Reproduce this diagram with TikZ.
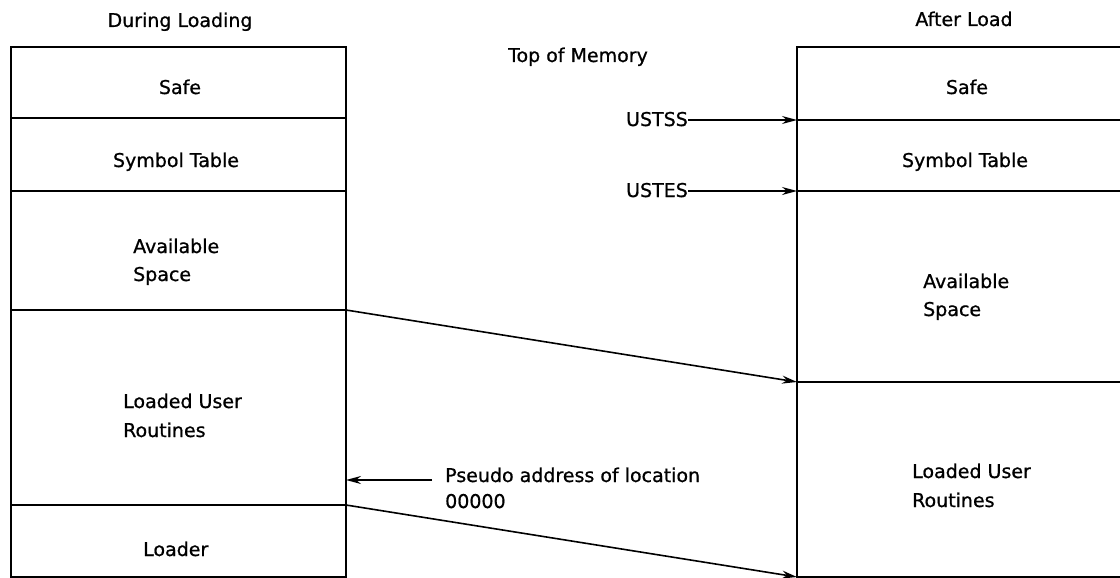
\documentclass[tikz,border=0pt]{standalone}
\usepackage{fontspec}
\setmainfont{DejaVu Sans}
\newfontfamily\labelfont{DejaVu Sans}[FakeBold=0.8]
\usetikzlibrary{arrows.meta}
\begin{document}
\begin{tikzpicture}[x=1pt,y=-1pt,
  lbl/.style={font=\labelfont\fontsize{19}{22}\selectfont, inner sep=0pt, anchor=base},
  lblw/.style={lbl, anchor=base west},
  lble/.style={lbl, anchor=base east},
  frame/.style={line width=1.9pt},
  div/.style={line width=1.4pt},
  ptr/.style={line width=1.6pt, -{Stealth[length=15pt,width=8pt]}},
  tag/.style={line width=1.1pt, -{Stealth[length=15pt,width=8pt]}}]
\useasboundingbox (0,0) rectangle (1120,578);

% memory map while the loader runs
\coordinate (LtopL) at (11,47);   \coordinate (LtopR) at (346,47);
\coordinate (LaL) at (11,118);    \coordinate (LaR) at (346,118);
\coordinate (LbL) at (11,191);    \coordinate (LbR) at (346,191);
\coordinate (LcL) at (11,310);    \coordinate (LcR) at (346,310);
\coordinate (LdL) at (11,505);    \coordinate (LdR) at (346,505);
\coordinate (LbotL) at (11,577);  \coordinate (LbotR) at (346,577);
\draw[frame] (LtopL) rectangle (LbotR);
\draw[div] (LaL) -- (LaR);
\draw[div] (LbL) -- (LbR);
\draw[div] (LcL) -- (LcR);
\draw[div] (LdL) -- (LdR);

% memory map once loading is complete
\coordinate (RtopL) at (797,47);  \coordinate (RtopR) at (1120,47);
\coordinate (RaL) at (797,120);   \coordinate (RaR) at (1120,120);
\coordinate (RbL) at (797,191);   \coordinate (RbR) at (1120,191);
\coordinate (RcL) at (797,382);   \coordinate (RcR) at (1120,382);
\coordinate (RbotL) at (797,577); \coordinate (RbotR) at (1120,577);
\draw[frame] (RtopR) -- (RtopL) -- (RbotL) -- (RbotR);
\draw[div] (RaL) -- (RaR);
\draw[div] (RbL) -- (RbR);
\draw[div] (RcL) -- (RcR);

% headings
\node[lbl] (hleft) at (180,27) {During Loading};
\node[lbl] (hright) at (964,26) {After Load};
\node[lbl] (top) at (578,62) {Top of Memory};

% left column labels
\node[lbl] (lsafe) at (180,94) {Safe};
\node[lbl] (lsym) at (176,167) {Symbol Table};
\node[lblw] (lavail) at (133,253) {Available};
\node[lblw] (lspace) at (133,281) {Space};
\node[lblw] (luser) at (123,408) {Loaded User};
\node[lblw] (lrout) at (123,437) {Routines};
\node[lblw] (lload) at (143,556) {Loader};

% right column labels
\node[lbl] (rsafe) at (967,94) {Safe};
\node[lbl] (rsym) at (965,167) {Symbol Table};
\node[lblw] (ravail) at (923,288) {Available};
\node[lblw] (rspace) at (923,316) {Space};
\node[lblw] (ruser) at (912,478) {Loaded User};
\node[lblw] (rrout) at (912,507) {Routines};

% pointers into the final map
\node[lble] (ustss) at (688,126) {USTSS};
\node[lble] (ustes) at (688,197) {USTES};
\draw[tag] (ustss.east |- RaL) -- (RaL);
\draw[tag] (ustes.east |- RbL) -- (RbL);

% relocation of the user routines
\draw[ptr] (LcR) -- (RcL);
\draw[ptr] (LdR) -- (RbotL);

% pseudo origin
\node[lblw] (pseudo) at (445,482) {Pseudo address of location};
\node[lblw] (zero) at (445,508) {00000};
\coordinate (pfrom) at (432,480);
\coordinate (pto) at (346,480);
\draw[ptr] (pfrom) -- (pto);
\end{tikzpicture}
\end{document}
